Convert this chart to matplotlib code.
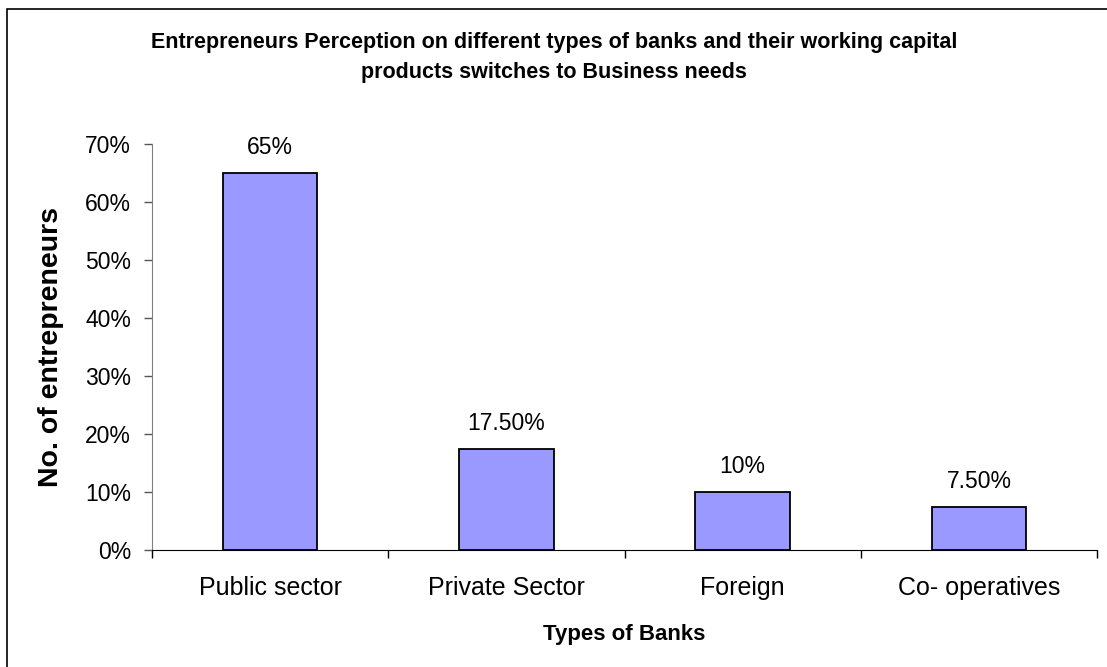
import matplotlib.pyplot as plt
from matplotlib.patches import Rectangle
from matplotlib.ticker import PercentFormatter, FixedLocator, NullFormatter

plt.rcParams['font.family'] = ['Liberation Sans', 'DejaVu Sans']

# Survey results
banks = ['Public sector', 'Private Sector', 'Foreign', 'Co- operatives']
share = [0.65, 0.175, 0.10, 0.075]
share_labels = ['65%', '17.50%', '10%', '7.50%']
title_lines = ['Entrepreneurs Perception on different types of banks and their working capital',
               'products switches to Business needs']

W, H = 1107, 667
fig = plt.figure(figsize=(W / 100, H / 100), dpi=100)
ax = fig.add_axes([152 / W, 1 - 550 / H, (1097 - 152) / W, (550 - 144) / H])

pos = list(range(len(banks)))
bars = ax.bar(pos, share, width=0.4, color='#9999FF', edgecolor='black', linewidth=1.3)

for b, lab in zip(bars, share_labels):
    ax.annotate(lab, (b.get_x() + b.get_width() / 2, b.get_height()),
                xytext=(0, 10), textcoords='offset points',
                ha='center', va='bottom', fontsize=16.5)

ax.set_xlim(-0.5, len(banks) - 0.5)
ax.set_ylim(0, 0.7)
ax.set_yticks([i / 10 for i in range(8)])
ax.yaxis.set_major_formatter(PercentFormatter(1.0, decimals=0))

# category names centred, tick marks between categories
ax.set_xticks(pos)
ax.set_xticklabels(banks, fontsize=18)
ax.tick_params(axis='x', which='major', length=0, pad=19)
ax.xaxis.set_minor_locator(FixedLocator([p - 0.5 for p in pos] + [len(banks) - 0.5]))
ax.xaxis.set_minor_formatter(NullFormatter())
ax.tick_params(axis='x', which='minor', length=6, width=1, color='black', direction='out')
ax.tick_params(axis='y', labelsize=16.5, length=6, width=1, color='#555555', pad=9)

for s in ['top', 'right']:
    ax.spines[s].set_visible(False)
ax.spines['left'].set_color('#808080')
ax.spines['bottom'].set_color('black')

ax.set_ylabel('No. of entrepreneurs', fontsize=20.5, fontweight='bold')
ax.yaxis.set_label_coords(-0.093, 0.5)
ax.set_xlabel('Types of Banks', fontsize=16, fontweight='bold')
ax.xaxis.set_label_coords(0.5, -0.183)

for y_px, line in zip([48, 78], title_lines):
    fig.text(554 / W, 1 - y_px / H, line, ha='center', va='baseline',
             fontsize=15.5, fontweight='bold')

# chart area border
fig.patches.append(Rectangle((7 / W, -0.05), 1.1, 1 - 9 / H + 0.05, transform=fig.transFigure,
                             fill=False, edgecolor='black', linewidth=1.2))

fig.savefig('out.png', dpi=100)
